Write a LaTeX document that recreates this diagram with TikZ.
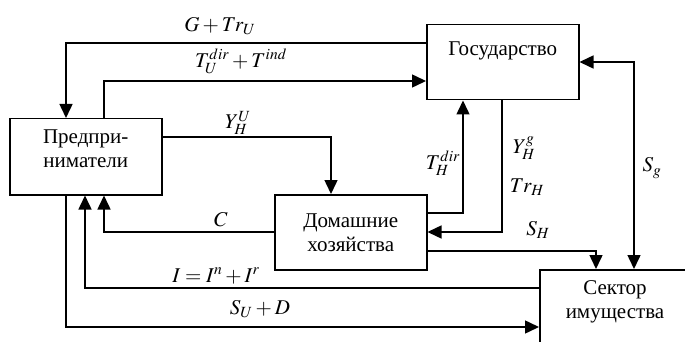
\documentclass[tikz,border=0pt]{standalone}
\usepackage{mathptmx}
\usepackage{fontspec}
\setmainfont{Liberation Serif}
\usetikzlibrary{arrows.meta}

\begin{document}
\begin{tikzpicture}[
  x=1pt, y=-1pt,
  font=\fontsize{21}{24}\selectfont,
  line width=1.5pt,
  sectorbox/.style={
    draw,
    minimum width=152pt,
    minimum height=75pt,
    anchor=north west,
    inner sep=0pt
  },
  boxtext/.style={align=center, inner sep=0pt},
  flowlabel/.style={inner sep=0pt},
  flow/.style={-{Triangle[length=14pt,width=13pt]}},
  twoflow/.style={{Triangle[length=14pt,width=13pt]}-{Triangle[length=14pt,width=13pt]}}
]
\useasboundingbox (0,0) rectangle (685,342);
\clip (0,0) rectangle (685,342);

% sectors
\node[sectorbox, minimum height=76pt] (pred) at (9,118) {};
\node[sectorbox] (gos) at (426,24) {};
\node[sectorbox] (dom) at (274,194) {};
\node[sectorbox, minimum height=85pt] (sek) at (539,269) {};

\node[boxtext] (predtxt) at ([yshift=8pt]pred.center) {Предпри-\\ниматели};
\node[boxtext] (gostxt) at ([yshift=11pt]gos.center) {Государство};
\node[boxtext] (domtxt) at (dom.center) {Домашние\\хозяйства};
\node[boxtext] (sektxt) at (615,302) {Сектор\\имущества};

% flows
\draw[flow] ([yshift=-19pt]gos.north west) -| ([xshift=57pt]pred.north west);
\draw[flow] ([xshift=95pt]pred.north west) |- ([yshift=-57pt]gos.north west);
\draw[flow] ([yshift=-19pt]pred.north east) -| ([xshift=57pt]dom.north west);
\draw[flow] ([yshift=-38pt]dom.north west) -| ([xshift=95pt]pred.south west);
\draw[flow] ([yshift=-19pt]sek.north west) -| ([xshift=76pt]pred.south west);
\draw[flow] ([xshift=57pt]pred.south west) |- ([yshift=-58pt]sek.north west);
\draw[flow] ([yshift=-19pt]dom.north east) -| ([xshift=37pt]gos.south west);
\draw[flow] ([xshift=76pt]gos.south west) |- ([yshift=-38pt]dom.north east);
\draw[flow] ([yshift=-57pt]dom.north east) -| ([xshift=57pt]sek.north west);
\draw[twoflow] ([yshift=-38pt]gos.north east) -| ([xshift=95pt]sek.north west);

% flow labels
\node[flowlabel] (lgtr) at (220,26) {$G+Tr_U$};
\node[flowlabel] (ltu) at (241,61) {$T_U^{dir}+T^{ind}$};
\node[flowlabel] (lyhu) at (238,123) {$Y_H^U$};
\node[flowlabel] (lc) at (221,220) {$C$};
\node[flowlabel] (li) at (216,276) {$I=I^n+I^r$};
\node[flowlabel] (lsu) at (260,309) {$S_U+D$};
\node[flowlabel] (lth) at (443,163) {$T_H^{dir}$};
\node[flowlabel] (lyhg) at (524,148) {$Y_H^g$};
\node[flowlabel] (ltrh) at (527,187) {$Tr_H$};
\node[flowlabel] (lsh) at (538,230) {$S_H$};
\node[flowlabel] (lsg) at (652,168) {$S_g$};

\end{tikzpicture}
\end{document}
